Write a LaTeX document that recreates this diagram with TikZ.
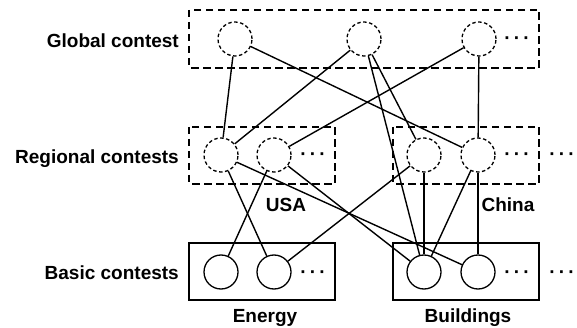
\documentclass[tikz,border=0pt]{standalone}
\usepackage{fontspec}
\setmainfont{Liberation Sans}
\begin{document}
\begin{tikzpicture}[x=1pt,y=-1pt,
  lbl/.style={font=\fontsize{19}{22}\selectfont\bfseries, inner sep=0pt},
  dotsnode/.style={font=\fontsize{19}{22}\selectfont\bfseries, inner sep=0pt, anchor=base},
  cnode/.style={circle, draw, line width=1.3pt, minimum size=34pt, inner sep=0pt},
  dnode/.style={cnode, dash pattern=on 3.5pt off 2.5pt},
  dbox/.style={draw, line width=1.5pt, dash pattern=on 7.5pt off 4.5pt},
  sbox/.style={draw, line width=1.5pt},
  conn/.style={line width=1.4pt}]
\useasboundingbox (0,0) rectangle (577,328);
\newcommand{\mydots}{·\kern3.2pt·\kern3.2pt·}

% boxes
\draw[dbox] (189,10) rectangle (539,68);
\draw[dbox] (189,127) rectangle (335,184);
\draw[dbox] (393,127) rectangle (539,184);
\draw[sbox] (189,243) rectangle (335,300);
\draw[sbox] (393,243) rectangle (539,300);

% row labels
\node[lbl, anchor=base east] (lg) at (179,47.3) {Global contest};
\node[lbl, anchor=base east] (lr) at (179,163.3) {Regional contests};
\node[lbl, anchor=base east] (lb) at (179,279.3) {Basic contests};

% group labels
\node[lbl, anchor=base] (lusa) at (286,211.7) {USA};
\node[lbl, anchor=base] (lchina) at (508,211.7) {China};
\node[lbl, anchor=base] (lenergy) at (265,322.5) {Energy};
\node[lbl, anchor=base] (lbuild) at (468,322) {Buildings};

% global nodes
\node[dnode] (G1) at (235,39) {};
\node[dnode] (G2) at (364,39) {};
\node[dnode] (G3) at (479,39) {};
\node[dotsnode] (gd) at (517,45) {\mydots};

% regional nodes
\node[dnode] (R1) at (221,155) {};
\node[dnode] (R2) at (274,155) {};
\node[dotsnode] (rd1) at (313,161) {\mydots};
\node[dnode] (C1) at (424,155) {};
\node[dnode] (C2) at (478,155) {};
\node[dotsnode] (rd2) at (517,161) {\mydots};
\node[dotsnode] (rd3) at (562,161) {\mydots};

% basic nodes
\node[cnode] (B1) at (221,272) {};
\node[cnode] (B2) at (274,272) {};
\node[dotsnode] (bd1) at (313,278) {\mydots};
\node[cnode] (B3) at (424,272) {};
\node[cnode] (B4) at (478,272) {};
\node[dotsnode] (bd2) at (517,278) {\mydots};
\node[dotsnode] (bd3) at (562,278) {\mydots};

% connectors
\draw[conn] (G1) -- (R1);
\draw[conn] (G1) -- (C2);
\draw[conn] (G2) -- (R1);
\draw[conn] (G2) -- (C1);
\draw[conn] (G2) -- (B3);
\draw[conn] (G3) -- (R2);
\draw[conn] (G3) -- (C2);
\draw[conn] (R1) -- (B2);
\draw[conn] (R1) -- (B4);
\draw[conn] (R2) -- (B1);
\draw[conn] (R2) -- (B3);
\draw[conn] (B2) -- (C1);
\draw[conn] (C1) -- (B3);
\draw[conn] (C2) -- (B3);
\draw[conn] (C2) -- (B4);
\end{tikzpicture}
\end{document}
